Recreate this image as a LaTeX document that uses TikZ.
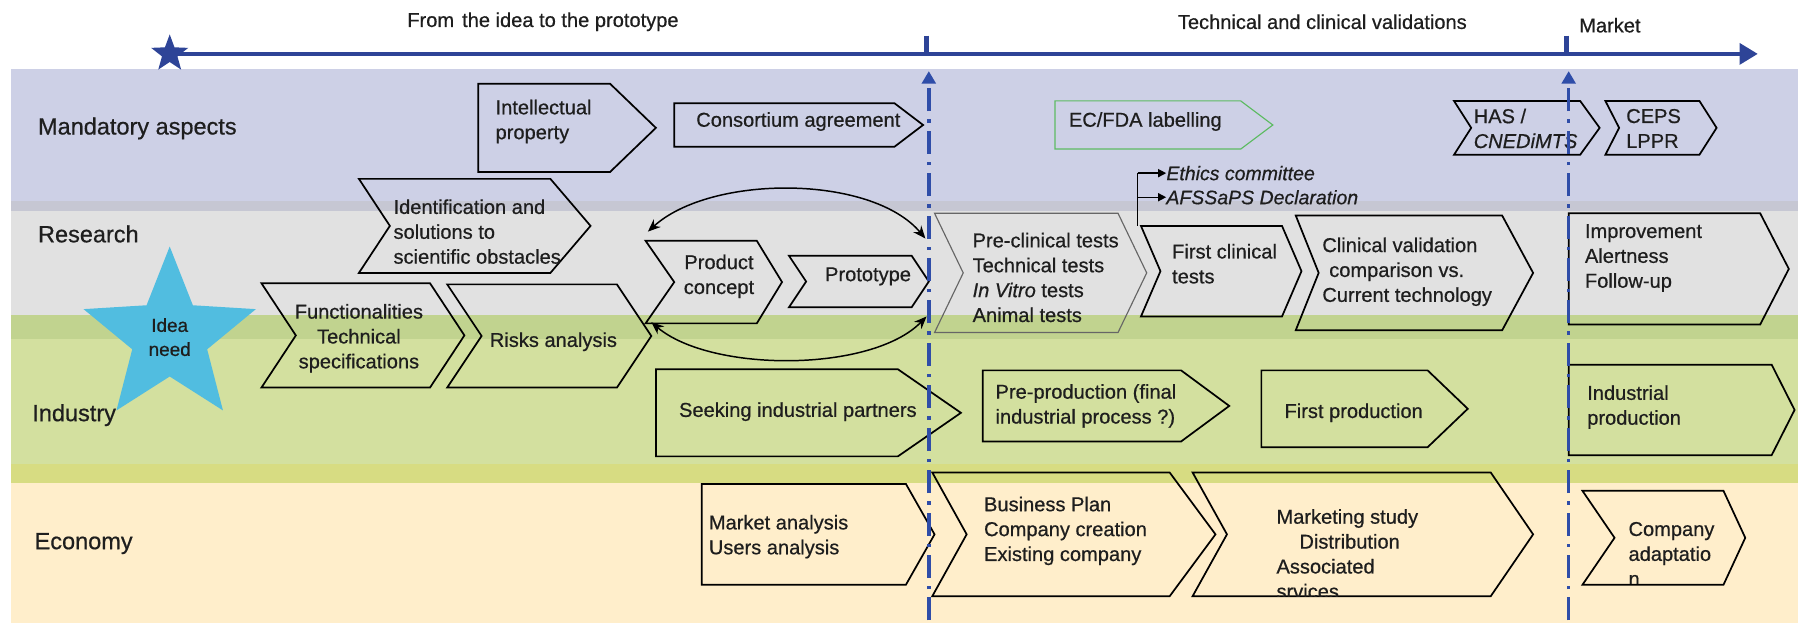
\documentclass[tikz,border=0pt]{standalone}
\usepackage{fontspec}
\setmainfont{Liberation Sans}
\newfontfamily\bx[FakeBold=0.6]{Liberation Sans}
\usetikzlibrary{arrows.meta,shapes.geometric}
\definecolor{lav}{HTML}{CDD0E6}
\definecolor{lavgray}{HTML}{C6C7D3}
\definecolor{lgray}{HTML}{E1E1E1}
\definecolor{dgreen}{HTML}{C1D38F}
\definecolor{lgreen}{HTML}{D3E09F}
\definecolor{ygreen}{HTML}{D7DC82}
\definecolor{cream}{HTML}{FFEECB}
\definecolor{navy}{HTML}{2E4497}
\definecolor{dashblue}{HTML}{2F4DA8}
\definecolor{cyanstar}{HTML}{51BDE0}
\definecolor{labgreen}{HTML}{5DBB63}
\definecolor{ink}{HTML}{1E1E1E}
\newcommand\shapebox[8]{%
  \draw[#1] (#3,#4) -- ({#5-#8},#4) -- (#5,{(#4+#6)/2}) -- ({#5-#8},#6) -- (#3,#6) -- ({#3+#7},{(#4+#6)/2}) -- cycle;
  \coordinate (#2) at ({(#3+#5)/2},{(#4+#6)/2});
}
\tikzset{
 rowlab/.style={anchor=west, inner sep=0pt, text=ink, font=\bx\fontsize{20.5}{24}\selectfont},
 ttl/.style={anchor=west, inner sep=0pt, text=ink, font=\bx\fontsize{17.5}{21}\selectfont},
 txt/.style={inner sep=0pt, align=left, anchor=west, text=ink, font=\bx\fontsize{17.5}{21.7}\selectfont},
 ctxt/.style={txt, align=center, anchor=center},
 box/.style={draw=black, line width=1.5pt, line join=miter},
 thinbox/.style={draw=black!60, line width=1pt, line join=miter},
 greenbox/.style={draw=labgreen, line width=1pt, line join=miter},
 vdash/.style={draw=dashblue, line width=3pt, dash pattern=on 20pt off 7pt on 3pt off 7pt, -{Triangle[length=11pt,width=12pt]}},
 dbl/.style={line width=1.3pt, {Stealth[length=11pt,width=9pt]}-{Stealth[length=11pt,width=9pt]}},
 smallarr/.style={line width=1.2pt, -{Triangle[length=7pt,width=7pt]}},
}
\begin{document}
\begin{tikzpicture}[x=1pt,y=-1pt]
\useasboundingbox (0,0) rectangle (1568,543);
% bands
\fill[lav] (10,60) rectangle (1568,175);
\fill[lavgray] (10,175) rectangle (1568,184);
\fill[lgray] (10,184) rectangle (1568,275);
\fill[dgreen] (10,275) rectangle (1568,296);
\fill[lgreen] (10,296) rectangle (1568,405);
\fill[ygreen] (10,405) rectangle (1568,421);
\fill[cream] (10,421) rectangle (1568,543);
% timeline
\coordinate (tend) at (1533,47);
\draw[navy, line width=4pt, -{Triangle[length=16pt,width=18pt]}] (148,47) -- (tend);
\node[star, star points=5, star point ratio=2.4, fill=navy, minimum size=34pt, inner sep=0pt] (tstar) at (148,47) {};
\draw[navy, line width=5pt] (808,31) -- (808,47);
\draw[navy, line width=5pt] (1366,31) -- (1366,47);
\node[ttl] (t1) at (355,19) {From\hspace{7pt}the idea to the prototype};
\node[ttl] (t2) at (1027,19) {Technical and clinical validations};
\node[ttl] (t3) at (1377,22) {Market};
% row labels
\node[rowlab] (rmand) at (33,112) {Mandatory aspects};
\node[rowlab] (rres) at (33,204) {Research};
\node[rowlab] (rind) at (28,362) {Industry};
\node[rowlab] (reco) at (30,474) {Economy};
% idea star
\node[star, star points=5, star point ratio=2.3, fill=cyanstar, minimum size=158pt, inner sep=0pt, text=ink, font=\bx\fontsize{16.5}{21}\selectfont, align=center] (idea) at (148,294) {Idea\\need};
% mandatory row
\shapebox{box}{ip}{417}{73}{572}{150}{0}{40}
\node[txt] (tip) at (432,106) {Intellectual\\property};
\shapebox{box}{cons}{588}{90}{805}{128}{0}{25}
\node[txt] (tcons) at (607,106) {Consortium agreement};
\shapebox{greenbox}{ecfda}{920}{88}{1110}{130}{0}{28}
\node[txt] (tecfda) at (932,106) {EC/FDA labelling};
\shapebox{box}{has}{1268}{88}{1395}{135}{15}{17}
\node[txt] (thas) at (1285,112) {HAS /\\\textit{CNEDiMTS}};
\shapebox{box}{ceps}{1400}{88}{1497}{135}{12}{15}
\node[txt] (tceps) at (1418,112) {CEPS\\LPPR};
% research row
\shapebox{box}{ident}{313}{156}{515}{238}{27}{35}
\node[txt] (tident) at (343,202) {Identification and\\solutions to\\scientific obstacles};
\shapebox{box}{func}{228}{247}{405}{338}{30}{30}
\node[ctxt] (tfunc) at (313,295) {Functionalities\\Technical\\specifications};
\shapebox{box}{risk}{390}{248}{568}{338}{30}{30}
\node[txt] (trisk) at (427,298) {Risks analysis};
\shapebox{box}{pc}{563}{210}{682}{282}{25}{22}
\node[ctxt] (tpc) at (627,241) {Product\\concept};
\shapebox{box}{proto}{688}{223}{810}{268}{15}{15}
\node[ctxt] (tproto) at (757,241) {Prototype};
\shapebox{thinbox}{precl}{815}{186}{1000}{290}{25}{25}
\node[txt] (tprecl) at (848,242) {Pre-clinical tests\\Technical tests\\\textit{In Vitro} tests\\Animal tests};
\shapebox{box}{fct}{995}{197}{1135}{276}{17}{17}
\node[txt] (tfct) at (1022,230) {First clinical\\tests};
\shapebox{box}{cval}{1130}{188}{1337}{288}{20}{27}
\node[txt] (tcval) at (1153,237) {Clinical validation\\\hspace*{6pt}comparison vs.\\Current technology};
\shapebox{box}{impr}{1368}{186}{1560}{283}{0}{25}
\node[txt] (timpr) at (1382,225) {Improvement\\Alertness\\Follow-up};
% ethics arrows
\coordinate (fcttop) at (992,197);
\coordinate (eth) at (992,151);
\coordinate (afs) at (992,172);
\node[txt, font=\bx\fontsize{17}{21.7}\selectfont\itshape] (tethics) at (1017,151) {Ethics committee};
\node[txt, font=\bx\fontsize{17}{21.7}\selectfont\itshape] (tafs) at (1017,172) {AFSSaPS Declaration};
\draw[line width=1.2pt] (fcttop) -- (eth);
\draw[smallarr] (eth) -- (tethics.west);
\draw[smallarr] (afs) -- (tafs.west);
% curved double arrows
\coordinate (a1) at (565,202);
\coordinate (a2) at (807,208);
\coordinate (b1) at (568,281);
\coordinate (b2) at (808,276);
\draw[dbl] (a1) .. controls (620,152) and (760,152) .. (a2);
\draw[dbl] (b1) .. controls (620,325) and (760,325) .. (b2);
% industry row
\shapebox{box}{seek}{572}{322}{838}{398}{0}{55}
\node[txt] (tseek) at (592,359) {Seeking industrial partners};
\shapebox{box}{preprod}{857}{323}{1072}{385}{0}{42}
\node[txt] (tpreprod) at (868,354) {Pre-production (final\\industrial process ?)};
\shapebox{box}{fprod}{1100}{323}{1280}{390}{0}{35}
\node[txt] (tfprod) at (1120,360) {First production};
\shapebox{box}{indprod}{1368}{318}{1565}{397}{0}{20}
\node[txt] (tindprod) at (1384,355) {Industrial\\production};
% economy row
\shapebox{box}{mkt}{612}{422}{815}{510}{0}{25}
\node[txt] (tmkt) at (618,468) {Market analysis\\Users analysis};
\shapebox{box}{bp}{813}{412}{1060}{520}{30}{40}
\node[txt] (tbp) at (858,463) {Business Plan\\Company creation\\Existing company};
\shapebox{box}{mstudy}{1040}{412}{1337}{520}{30}{37}
\begin{scope}
\clip (1000,400) rectangle (1400,520);
\node[txt] (tmstudy) at (1113,483) {Marketing study\\\hspace*{20pt}Distribution\\Associated\\srvices};
\end{scope}
\shapebox{box}{comp}{1380}{428}{1522}{510}{28}{19}
\begin{scope}
\clip (1390,420) rectangle (1520,509);
\node[txt] (tcomp) at (1420,483) {Company\\adaptatio\\n};
\end{scope}
% vertical dash-dot lines
\coordinate (v1b) at (810,541);
\coordinate (v1t) at (810,62);
\coordinate (v2b) at (1368,541);
\coordinate (v2t) at (1368,62);
\draw[vdash] (v1b) -- (v1t);
\draw[vdash] (v2b) -- (v2t);
\end{tikzpicture}
\end{document}
